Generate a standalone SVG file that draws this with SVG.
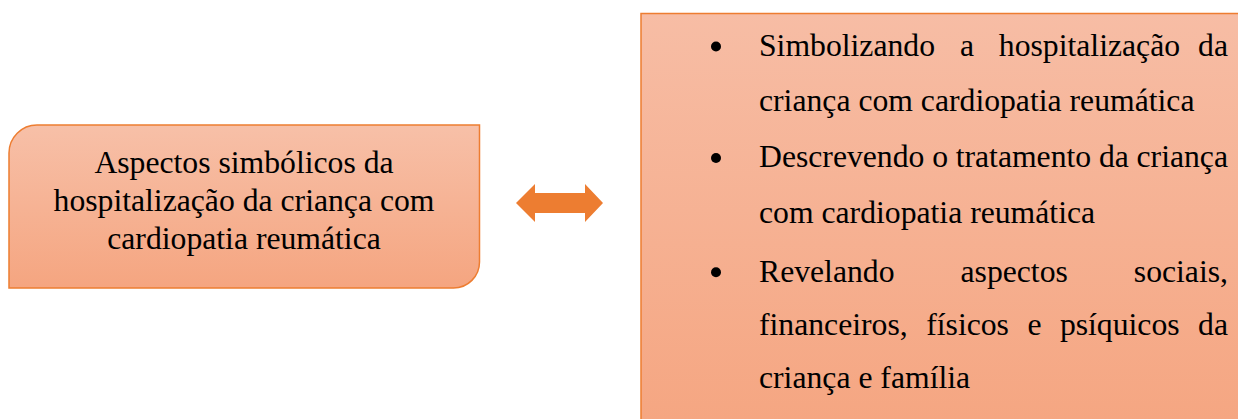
<svg xmlns="http://www.w3.org/2000/svg" width="1238" height="419" viewBox="0 0 1238 419">
  <defs>
    <linearGradient id="gLeft" x1="0" y1="125" x2="0" y2="288" gradientUnits="userSpaceOnUse">
      <stop offset="0" stop-color="#F7C0A8"/>
      <stop offset="1" stop-color="#F5A580"/>
    </linearGradient>
    <linearGradient id="gRight" x1="0" y1="13" x2="0" y2="440" gradientUnits="userSpaceOnUse">
      <stop offset="0" stop-color="#F7BDA5"/>
      <stop offset="1" stop-color="#F5A580"/>
    </linearGradient>
    <style>
      .box { stroke: #ED7D31; stroke-width: 1.5; }
      .t { font-family: "Liberation Serif", "Times New Roman", serif; font-size: 31.7px; fill: #000000; }
      .c { text-anchor: middle; }
      .e { text-anchor: end; }
      .bullet { fill: #000000; }
    </style>
  </defs>
  <rect width="1238" height="419" fill="#FFFFFF"/>

  <g id="node-left">
    <path class="box" fill="url(#gLeft)" d="M 37 125 H 479.5 V 262 A 26 26 0 0 1 453.5 288 H 9 V 153 A 28 28 0 0 1 37 125 Z"/>
    <text class="t c" x="244" y="173">Aspectos simbólicos da</text>
    <text class="t c" x="244" y="211">hospitalização da criança com</text>
    <text class="t c" x="244" y="248.5">cardiopatia reumática</text>
  </g>

  <g id="connectors">
    <polygon fill="#ED7D31" points="516,203 535,184 535,193 585,193 585,184 603,203 585,222 585,213 535,213 535,222"/>
  </g>

  <g id="node-right">
    <rect class="box" fill="url(#gRight)" x="641" y="13.5" width="610" height="420"/>
    <circle class="bullet" cx="716" cy="46.5" r="5"/>
    <text class="t">
      <tspan x="759" y="56">Simbolizando</tspan>
      <tspan x="959.9" y="56">a</tspan>
      <tspan x="998.8" y="56">hospitalização</tspan>
    </text>
    <text class="t e" x="1228" y="56">da</text>
    <text class="t" x="759" y="110.7">criança com cardiopatia reumática</text>

    <circle class="bullet" cx="716" cy="158" r="5"/>
    <text class="t">
      <tspan x="759" y="167.3">Descrevendo</tspan>
      <tspan x="932.2" y="167.3">o</tspan>
      <tspan x="955.7" y="167.3">tratamento</tspan>
      <tspan x="1099" y="167.3">da</tspan>
    </text>
    <text class="t e" x="1228" y="167.3">criança</text>
    <text class="t" x="759" y="222.7">com cardiopatia reumática</text>

    <circle class="bullet" cx="716" cy="272.3" r="5"/>
    <text class="t">
      <tspan x="759" y="281.7">Revelando</tspan>
      <tspan x="960.5" y="281.7">aspectos</tspan>
    </text>
    <text class="t e" x="1228" y="281.7">sociais,</text>
    <text class="t">
      <tspan x="759" y="335">financeiros,</tspan>
      <tspan x="926.2" y="335">físicos</tspan>
      <tspan x="1027.4" y="335">e</tspan>
      <tspan x="1059.9" y="335">psíquicos</tspan>
    </text>
    <text class="t e" x="1228" y="335">da</text>
    <text class="t" x="759" y="388.3">criança e família</text>
  </g>
</svg>
